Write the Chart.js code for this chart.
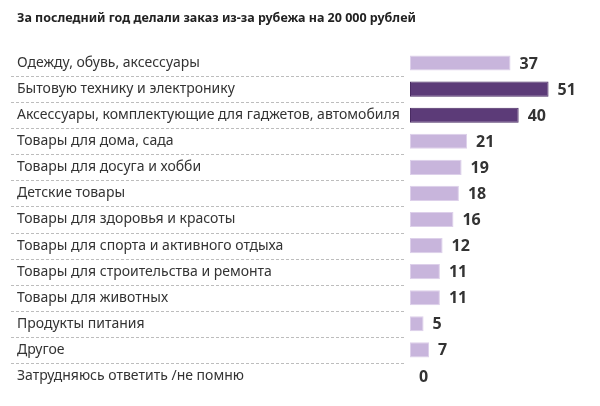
<!DOCTYPE html>
<html>
<head>
<meta charset="utf-8">
<script src="https://cdn.jsdelivr.net/npm/chart.js@4.4.1/dist/chart.umd.min.js"></script>
<style>
  html, body { margin: 0; padding: 0; background: #fff; }
  #wrap { width: 600px; height: 406px; }
</style>
</head>
<body>
<div id="wrap"><canvas id="chart"></canvas></div>
<script>
const TITLE = 'За последний год делали заказ из-за рубежа на 20 000 рублей';

const categories = [
  'Одежду, обувь, аксессуары',
  'Бытовую технику и электронику',
  'Аксессуары, комплектующие для гаджетов, автомобиля',
  'Товары для дома, сада',
  'Товары для досуга и хобби',
  'Детские товары',
  'Товары для здоровья и красоты',
  'Товары для спорта и активного отдыха',
  'Товары для строительства и ремонта',
  'Товары для животных',
  'Продукты питания',
  'Другое',
  'Затрудняюсь ответить /не помню'
];

const values = [37, 51, 40, 21, 19, 18, 16, 12, 11, 11, 5, 7, 0];

// rows shown in the dark colour
const highlighted = [false, true, true, false, false, false, false, false, false, false, false, false, false];

const LIGHT = '#c8b5dc';
const LIGHT_BORDER = '#ddd0ea';
const DARK = '#5c3b78';
const DARK_BORDER = '#4a2c63';

const FONT = '"Noto Sans", "Open Sans", sans-serif';

// dashed separators in the label column
const separators = {
  id: 'separators',
  afterDraw(chart) {
    const { ctx, scales: { y }, chartArea } = chart;
    ctx.save();
    ctx.strokeStyle = '#bdbdbd';
    ctx.lineWidth = 1;
    ctx.setLineDash([3, 2]);
    for (let i = 0; i < categories.length - 1; i++) {
      const py = Math.round((y.getPixelForValue(i) + y.getPixelForValue(i + 1)) / 2) + 0.5;
      ctx.beginPath();
      ctx.moveTo(11, py);
      ctx.lineTo(chartArea.left - 4, py);
      ctx.stroke();
    }
    ctx.restore();
  }
};

// value labels after each bar
const valueLabels = {
  id: 'valueLabels',
  afterDatasetsDraw(chart) {
    const { ctx, scales: { x, y } } = chart;
    ctx.save();
    ctx.fillStyle = '#333333';
    ctx.font = 'bold 16px ' + FONT;
    ctx.textAlign = 'left';
    ctx.textBaseline = 'middle';
    values.forEach((v, i) => {
      ctx.fillText(String(v), x.getPixelForValue(v) + 9, y.getPixelForValue(i) + 1);
    });
    ctx.restore();
  }
};

const config = {
  type: 'bar',
  data: {
    labels: categories,
    datasets: [
      {
        data: values,
        backgroundColor: highlighted.map(h => h ? DARK : LIGHT),
        borderColor: highlighted.map(h => h ? DARK_BORDER : LIGHT_BORDER),
        borderWidth: 1,
        borderSkipped: false,
        barPercentage: 0.58,
        categoryPercentage: 1
      }
    ]
  },
  options: {
    animation: false,
    responsive: true,
    maintainAspectRatio: false,
    indexAxis: 'y',
    layout: {
      padding: { left: 17, right: 27, top: 0, bottom: 17 }
    },
    plugins: {
      legend: { display: false },
      tooltip: { enabled: false },
      title: {
        display: true,
        text: TITLE,
        align: 'start',
        color: '#222222',
        font: { family: FONT, size: 12.5, weight: 'bold' },
        padding: { top: 11, bottom: 24 }
      }
    },
    scales: {
      x: {
        display: false,
        min: 0,
        max: 60
      },
      y: {
        afterFit(scale) { scale.width = 393; },
        border: { display: false },
        grid: { display: false },
        ticks: {
          crossAlign: 'far',
          color: '#333333',
          font: { family: FONT, size: 14 },
          padding: 0
        }
      }
    }
  },
  plugins: [separators, valueLabels]
};

new Chart(document.getElementById('chart'), config);
</script>
</body>
</html>
